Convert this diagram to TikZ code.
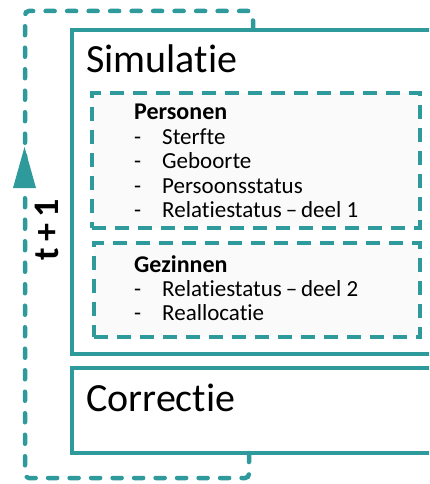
\documentclass[tikz,border=0pt]{standalone}
\usepackage{fontspec}
\setmainfont{Carlito}[Ligatures=CommonOff]
\usetikzlibrary{arrows.meta}
\definecolor{tealc}{HTML}{2F9A9C}
\definecolor{boxfill}{HTML}{FAFAFA}
\tikzset{
  mainbox/.style={draw=tealc, line width=3.5pt, fill=white, inner sep=0pt, outer sep=0pt, anchor=north west},
  subbox/.style={draw=tealc, line width=3.2pt, fill=boxfill, dash pattern=on 14pt off 9pt, inner sep=0pt, outer sep=0pt, anchor=north west},
  looppath/.style={draw=tealc, line width=4.5pt, line cap=round, dash pattern=on 9pt off 12.5pt, rounded corners=4pt},
  bigtitle/.style={font=\fontsize{40}{44}\selectfont, anchor=base west, inner sep=0pt},
  headtxt/.style={font=\bfseries\fontsize{24}{26}\selectfont, anchor=base west, inner sep=0pt},
  itemtxt/.style={font=\fontsize{23}{25}\selectfont, anchor=base west, inner sep=0pt},
}
\begin{document}
\begin{tikzpicture}[x=1pt,y=-1pt]
\clip (0,0) rectangle (429,484);
\fill[white] (0,0) rectangle (429,484);
% main boxes
\node[mainbox, minimum width=400pt, minimum height=324pt] (sim) at (72,30) {};
\node[mainbox, minimum width=400pt, minimum height=85pt] (corr) at (72,368) {};
% titles
\node[bigtitle] (simt) at (86,73) {Simulatie};
\node[bigtitle] (corrt) at (86,411) {Correctie};
% inner dashed boxes
\node[subbox, minimum width=328pt, minimum height=135pt] (pers) at (92,93) {};
\node[subbox, minimum width=326pt, minimum height=94pt] (gez) at (94,243) {};
% Personen list
\node[headtxt] (ph) at (134,119) {Personen};
\node[itemtxt] (pd1) at (134,144) {-};
\node[itemtxt] (pi1) at (162,144) {Sterfte};
\node[itemtxt] (pd2) at (134,168.5) {-};
\node[itemtxt] (pi2) at (162,168.5) {Geboorte};
\node[itemtxt] (pd3) at (134,193) {-};
\node[itemtxt] (pi3) at (162,193) {Persoonsstatus};
\node[itemtxt] (pd4) at (134,217) {-};
\node[itemtxt] (pi4) at (162,217) {Relatiestatus\,–\,deel 1};
% Gezinnen list
\node[headtxt] (gh) at (134,272) {Gezinnen};
\node[itemtxt] (gd1) at (134,296) {-};
\node[itemtxt] (gi1) at (162,296) {Relatiestatus\,–\,deel 2};
\node[itemtxt] (gd2) at (134,320) {-};
\node[itemtxt] (gi2) at (162,320) {Reallocatie};
% loop
\path (sim.north west) ++(181,0) coordinate (simtop);
\path (corr.south west) ++(177,0) coordinate (corrbot);
\draw[looppath] (corrbot) -- (249,478) -- (25,478) -- (25,11) -- (253,11) -- (simtop);
% arrow head
\fill[tealc] (13,188) -- (24.5,147) -- (36,188) -- cycle;
% t + 1 label
\node[rotate=90, font=\bfseries\fontsize{36}{38}\selectfont, inner sep=0pt] (tlab) at (47,230) {t\kern6pt+\kern6pt1};
\end{tikzpicture}
\end{document}
